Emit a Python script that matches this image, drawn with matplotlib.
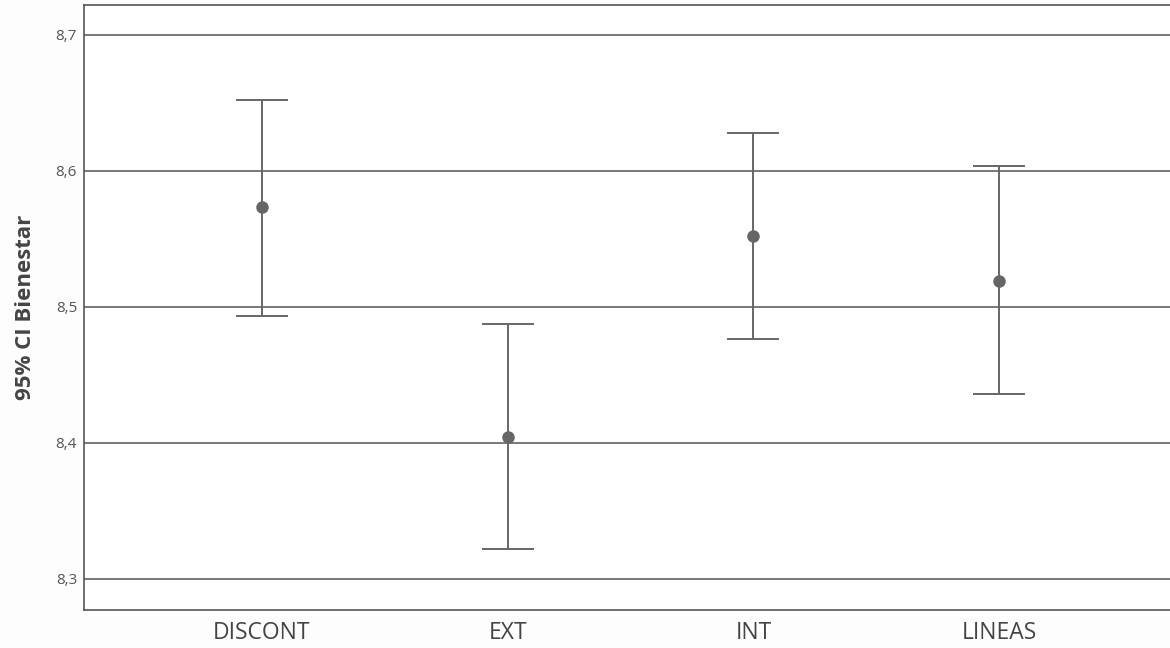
import matplotlib
matplotlib.use("Agg")
import matplotlib.pyplot as plt
from matplotlib.ticker import FuncFormatter

# datos: media e IC 95% por grupo
categorias = ["DISCONT", "EXT", "INT", "LINEAS"]
media = [8.5735, 8.4044, 8.5522, 8.5191]
ic_inf = [8.4934, 8.3221, 8.4765, 8.4360]
ic_sup = [8.6522, 8.4875, 8.6279, 8.6037]
y_ticks = [8.3, 8.4, 8.5, 8.6, 8.7]

plt.rcParams["font.family"] = ["Open Sans", "DejaVu Sans"]

fig = plt.figure(figsize=(11.7, 6.48), dpi=100, facecolor="#fdfdfd")
ax = fig.add_axes([0.0718, 0.0593, 0.9282, 0.933])
ax.set_facecolor("white")

x = list(range(len(categorias)))
err_bajo = [m - lo for m, lo in zip(media, ic_inf)]
err_alto = [hi - m for m, hi in zip(media, ic_sup)]

# lineas de rejilla horizontales
for t in y_ticks:
    ax.axhline(t, color="#555555", lw=1.1, zorder=1)

ax.errorbar(x, media, yerr=[err_bajo, err_alto], fmt="o", color="#666666",
            ecolor="#666666", elinewidth=1.4, capsize=19, capthick=1.4,
            markersize=8, zorder=3)

ax.set_xlim(-0.724, 3.695)
ax.set_ylim(8.2775, 8.722)
ax.set_yticks(y_ticks)
ax.yaxis.set_major_formatter(FuncFormatter(lambda v, p: f"{v:.1f}".replace(".", ",")))
ax.set_xticks(x)
ax.set_xticklabels(categorias)
ax.tick_params(axis="both", length=0)
ax.tick_params(axis="y", labelsize=11, labelcolor="#555555", pad=5)
ax.tick_params(axis="x", labelsize=16.5, labelcolor="#444444", pad=8)

for side in ["left", "top", "bottom"]:
    ax.spines[side].set_color("#555555")
    ax.spines[side].set_linewidth(1.2)
ax.spines["right"].set_visible(False)

ax.set_ylabel("95% CI Bienestar", fontsize=16, fontweight="bold", color="#444444", labelpad=14)

fig.savefig("out.png", dpi=100, facecolor=fig.get_facecolor())
